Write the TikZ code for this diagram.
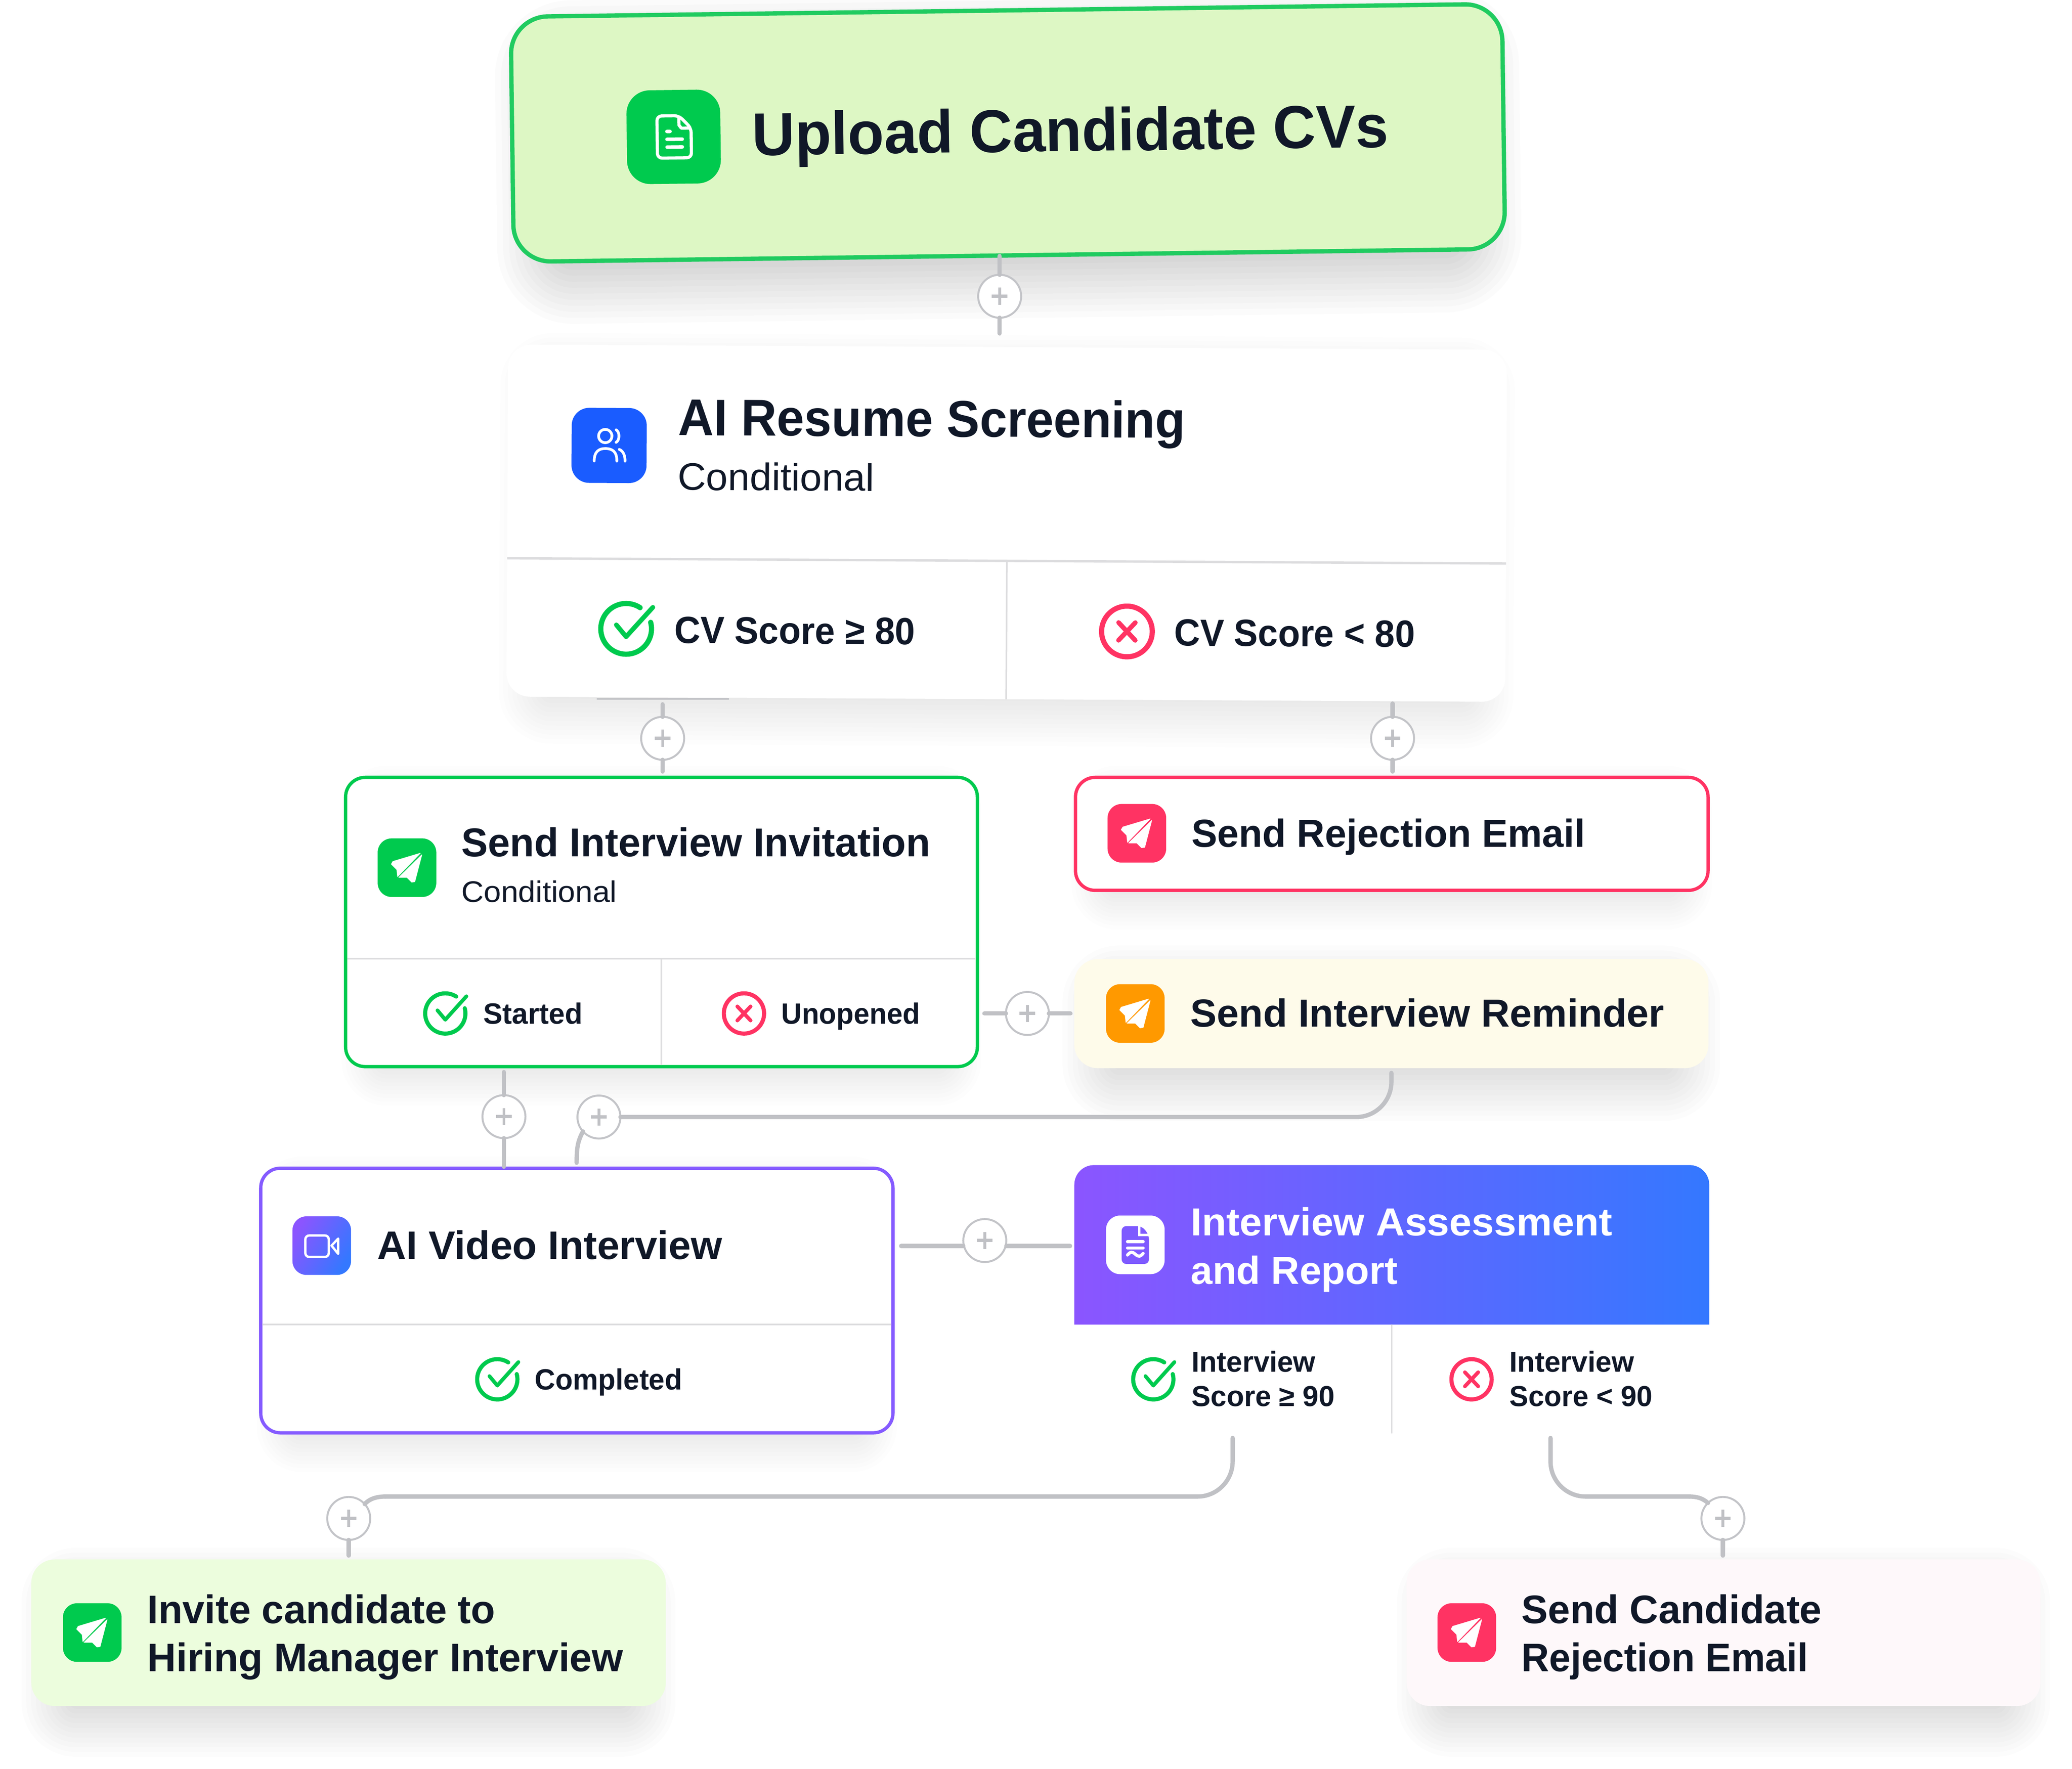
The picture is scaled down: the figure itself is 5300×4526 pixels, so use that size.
\documentclass[tikz,border=0pt]{standalone}
\usepackage{fontspec}
\usepackage{graphicx}
\setmainfont{Liberation Sans}
\definecolor{ink}{HTML}{101828}
\definecolor{wire}{HTML}{C0C1C5}
\definecolor{okgreen}{HTML}{00CA4E}
\definecolor{nored}{HTML}{FF3363}
\definecolor{amber}{HTML}{FF9900}
\definecolor{violet}{HTML}{855BFF}
\definecolor{gradA}{HTML}{8B55FF}
\definecolor{gradB}{HTML}{3478FF}
\definecolor{azure}{HTML}{1A5CFF}
\definecolor{upfill}{HTML}{DDF7C4}
\definecolor{upline}{HTML}{20CB60}
\definecolor{mintfill}{HTML}{ECFDDD}
\definecolor{rosefill}{HTML}{FEF8FA}
\definecolor{creamfill}{HTML}{FEFBEA}
\definecolor{rule}{HTML}{DCDCDE}
\newlength\uu
\setlength\uu{0.1pt}
\tikzset{
  x=0.1pt,y=-0.1pt,
  wh/.style 2 args={minimum width=#1*0.1pt,minimum height=#2*0.1pt},
  box/.style={rectangle,inner sep=0pt,outer sep=0pt,rounded corners=5pt,line width=0.85pt},
  iconbox/.style={rectangle,inner sep=0pt,outer sep=0pt,rounded corners=3.6pt,minimum size=15pt},
  txt/.style={inner sep=0pt,outer sep=0pt,anchor=base west},
  conn/.style={wire,line width=1.1pt,line cap=round},
  divider/.style={rule,line width=0.4pt},
  plusnode/.style={circle,draw=wire!95!white,line width=0.5pt,fill=white,minimum size=11pt,inner sep=0pt,outer sep=0pt,
    path picture={\draw[wire,line width=0.85pt] ([xshift=-2pt]path picture bounding box.center) -- ([xshift=2pt]path picture bounding box.center);
      \draw[wire,line width=0.7pt] ([yshift=-2.2pt]path picture bounding box.center) -- ([yshift=2.2pt]path picture bounding box.center);}},
}
% name x y width size text (bold)
\newcommand\lab[7][ink]{\node[txt,text=#1,transform shape] (#2) at (#3,#4) {\resizebox{#5\uu}{\height}{\fontsize{#6}{#6}\selectfont\bfseries #7}};}
\newcommand\labr[7][ink]{\node[txt,text=#1,transform shape] (#2) at (#3,#4) {\resizebox{#5\uu}{\height}{\fontsize{#6}{#6}\selectfont #7}};}
% two lines in one node: [colour] name x y w1 w2 size leading t1 t2
\newcommand\labii[9][ink]{\labiiaux{#1}{#2}{#3}{#4}{#5}{#6}{#7}{#8}{#9}}
\newcommand\labiiaux[9]{\def\firstline{#9}\labiiend{#1}{#2}{#3}{#4}{#5}{#6}{#7}{#8}}
\newcommand\labiiend[9]{\node[txt,text=#1] (#2) at (#3,#4) {\vtop{\fontsize{#7}{#7}\selectfont\bfseries\baselineskip=#8\uu\lineskiplimit=-1000pt\hbox{\resizebox{#5\uu}{\height}{\firstline}}\hbox{\resizebox{#6\uu}{\height}{#9}}}};}
\newcommand\softshadow[8]{\foreach \k in {0,...,13}{%
  \pgfmathsetmacro\e{#7*(1-\k/6.5)}%
  \pgfmathsetmacro\rr{max(#5+\e,5)*0.1}%
  \fill[black,opacity=#8/14,rounded corners=\rr pt] ({#1-(\e)+55},{#2+#6-(\e)}) rectangle ({#3+(\e)-55},{#4+#6+(\e)});}}
\newcommand\plane[2]{\begin{scope}[shift={(#1,#2)}]
  \fill[white,draw=white,line width=0.15pt,line join=round] (34,-37) -- (-36,-16) -- (-40,-9) -- (-26,5) -- (-24,23) -- cycle;
  \fill[white,draw=white,line width=0.15pt,line join=round] (38,-33) -- (-21,25) -- (0,25) -- (12,37) -- (20,36) -- cycle;
\end{scope}}
\newcommand\chk[3]{\begin{scope}[shift={(#1,#2)},scale=#3]
  \draw[okgreen,line width=#3*1.05pt,line cap=round] plot[domain=57:375,samples=70] ({51.5*cos(\x)},{-51.5*sin(\x)});
  \draw[okgreen,line width=#3*0.95pt,line cap=round,line join=round] (-20,-8) -- (0,16) -- (54,-44);
\end{scope}}
\newcommand\crs[3]{\begin{scope}[shift={(#1,#2)},scale=#3]
  \draw[nored,line width=#3*1.05pt] plot[domain=0:360,samples=70] ({51.5*cos(\x)},{-51.5*sin(\x)}) -- cycle;
  \draw[nored,line width=#3*0.95pt,line cap=round] (-17,-18) -- (17,18) (-17,18) -- (17,-18);
\end{scope}}
\begin{document}
\begin{tikzpicture}
\useasboundingbox (0,0) rectangle (5300,4526);
\fill[white] (0,0) rectangle (5300,4526);

% ---------- Upload
\begin{scope}[rotate around={0.75:(2578,337)}]
  \softshadow{1313}{26}{3843}{654}{95}{60}{100}{0.2}
  \node[box,wh={2536}{627},rounded corners=9.5pt,draw=upline,line width=1.1pt,fill=upfill,transform shape] (upload) at (2578,340) {};
  \node[iconbox,minimum size=24pt,rounded corners=6pt,fill=okgreen,transform shape] (uploadicon) at (1723,339) {};
  \begin{scope}[shift={(uploadicon.center)}]
    \draw[white,line width=0.8pt,line join=round,rounded corners=1.2pt] (-42,-54) -- (14,-54) -- (45,-22) -- (45,54) -- (-42,54) -- cycle;
    \draw[white,line width=0.8pt,line join=round] (14,-54) -- (14,-30) -- (20,-22) -- (45,-22);
    \draw[white,line width=0.9pt,line cap=round] (-17,-14) -- (-9,-14) (-17,6) -- (22,6) (-17,26) -- (22,26);
  \end{scope}
  \lab{uploadtxt}{1924}{389}{1628}{15.5pt}{Upload Candidate CVs}
\end{scope}

% ---------- AI Resume Screening
\begin{scope}[rotate around={-0.3:(2575,1340)}]
  \softshadow{1298}{888}{3853}{1789}{60}{45}{75}{0.12}
  \node[box,wh={2555}{901},rounded corners=6pt,fill=white,transform shape] (screen) at (2575,1338.5) {};
  \node[iconbox,minimum size=19.2pt,rounded corners=4.5pt,fill=azure,transform shape] (screenicon) at (1557,1145) {};
  \begin{scope}[shift={(screenicon.center)}]
    \draw[white,line width=0.7pt] plot[domain=0:360,samples=40] ({-10+17*cos(\x)},{-24+17*sin(\x)}) -- cycle;
    \draw[white,line width=0.7pt,line cap=round] plot[domain=-70:70,samples=20] ({14+11*cos(\x)},{-24+17*sin(\x)});
    \draw[white,line width=0.7pt,line cap=round] (-38,40) .. controls (-38,15) and (-25,8) .. (-10,8) .. controls (8,8) and (20,15) .. (20,40);
    \draw[white,line width=0.7pt,line cap=round] (26,10) .. controls (36,14) and (41,25) .. (41,40);
  \end{scope}
  \lab{screentitle}{1733}{1118}{1298}{13.2pt}{AI Resume Screening}
  \labr{screensub}{1733}{1258}{503}{9.8pt}{Conditional}
  \draw[rule,line width=0.6pt] (1298,1435) coordinate (sdl) -- (3853,1435) coordinate (sdr);
  \draw[divider] (2576,1435) coordinate (sdt) -- (2576,1789) coordinate (sdb);
  \chk{1603}{1614}{1.26}
  \lab{scoreok}{1727}{1650}{615}{9.7pt}{CV Score ≥ 80}
  \crs{2884}{1614}{1.26}
  \lab{scoreno}{3005}{1650}{616}{9.7pt}{CV Score < 80}
\end{scope}
\coordinate (stubA) at (1526,1788);
\coordinate (stubB) at (1865,1788);
\draw[wire,line width=0.4pt] (stubA) -- (stubB);

% ---------- Send Interview Invitation
\softshadow{884}{1989}{2500}{2729}{50}{35}{65}{0.12}
\node[box,wh={1616}{740},draw=okgreen,fill=white] (invite) at (1692,2359) {};
\node[iconbox,fill=okgreen] (inviteicon) at (1041,2220) {};
\plane{1041}{2220}
\lab{invitetitle}{1180}{2192}{1200}{10.3pt}{Send Interview Invitation}
\labr{invitesub}{1180}{2308}{398}{7.6pt}{Conditional}
\draw[divider] (888,2453) coordinate (idl) -- (2496,2453) coordinate (idr);
\draw[divider] (1692,2453) coordinate (idt) -- (1692,2725) coordinate (idb);
\chk{1139}{2593}{1}
\lab{started}{1236}{2620}{254}{7.5pt}{Started}
\crs{1903}{2593}{1}
\lab{unopened}{1999}{2620}{354}{7.5pt}{Unopened}

% ---------- Send Rejection Email
\softshadow{2751}{1989}{4369}{2278}{50}{35}{65}{0.12}
\node[box,wh={1618}{289},draw=nored,fill=white] (reject) at (3560,2133.5) {};
\node[iconbox,fill=nored] (rejecticon) at (2908,2132) {};
\plane{2908}{2132}
\lab{rejecttxt}{3048}{2167}{1007}{10pt}{Send Rejection Email}

% ---------- Send Interview Reminder
\softshadow{2748}{2454}{4370}{2733}{60}{50}{85}{0.15}
\node[box,wh={1622}{279},rounded corners=6pt,fill=creamfill] (remind) at (3559,2593.5) {};
\node[iconbox,fill=amber] (remindicon) at (2904,2593) {};
\plane{2904}{2593}
\lab{remindtxt}{3045}{2627}{1212}{10pt}{Send Interview Reminder}

% ---------- AI Video Interview
\softshadow{667}{2989}{2284}{3666}{50}{35}{65}{0.12}
\node[box,wh={1617}{677},draw=violet,fill=white] (video) at (1475.5,3327.5) {};
\node[iconbox,left color=gradA,right color=gradB,shading angle=60] (videoicon) at (823,3187) {};
\draw[white,line width=0.6pt,rounded corners=1pt] (781,3161) rectangle (841,3216);
\draw[white,line width=0.6pt,line join=round] (848,3187) -- (865,3169) -- (865,3208) -- cycle;
\lab{videotxt}{965}{3222}{882}{10.2pt}{AI Video Interview}
\draw[divider] (671,3389) coordinate (vdl) -- (2280,3389) coordinate (vdr);
\chk{1272}{3529}{1}
\lab{completed}{1368}{3556}{377}{7.5pt}{Completed}

% ---------- Interview Assessment and Report
\shade[left color=gradA,right color=gradB] (2748,3389) [rounded corners=5pt] -- (2748,2981) -- (4372,2981) [sharp corners] -- (4372,3389) -- cycle;
\node[iconbox,fill=white] (assessicon) at (2904,3185) {};
\fill[gradA!85!gradB,rounded corners=1.2pt] (2869,3137) -- (2921,3137) -- (2939,3160) -- (2939,3234) -- (2869,3234) -- cycle;
\draw[white,line width=0.6pt] (2914,3135) -- (2914,3160) -- (2941,3160);
\draw[white,line width=0.8pt,line cap=round] (2884,3177) -- (2924,3177) (2884,3193) -- (2924,3193);
\draw[white,line width=0.8pt,line cap=round] (2884,3211) .. controls (2892,3202) and (2896,3202) .. (2904,3209) .. controls (2912,3216) and (2916,3216) .. (2924,3207);
\labii[white]{assesstxt}{3046}{3161}{1078}{529}{10pt}{124}{Interview Assessment}{and Report}
\draw[divider] (3560,3389) coordinate (adt) -- (3560,3668) coordinate (adb);
\chk{2950}{3529}{1}
\labii{assessok}{3048}{3510}{317}{366}{7.4pt}{88}{Interview}{Score ≥ 90}
\crs{3764}{3529}{1}
\labii{assessno}{3861}{3510}{319}{366}{7.4pt}{88}{Interview}{Score < 90}

% ---------- bottom cards
\softshadow{80}{3990}{1703}{4365}{60}{50}{80}{0.17}
\node[box,wh={1623}{375},rounded corners=6pt,fill=mintfill] (hire) at (891.5,4177.5) {};
\node[iconbox,fill=okgreen] (hireicon) at (236,4177) {};
\plane{236}{4177}
\labii{hiretxt}{377}{4153}{890}{1217}{10.2pt}{124}{Invite candidate to}{Hiring Manager Interview}

\softshadow{3598}{3990}{5219}{4365}{60}{50}{80}{0.17}
\node[box,wh={1621}{375},rounded corners=6pt,fill=rosefill] (final) at (4408.5,4177.5) {};
\node[iconbox,fill=nored] (finalicon) at (3752,4177) {};
\plane{3752}{4177}
\labii{finaltxt}{3892}{4153}{768}{733}{10.2pt}{124}{Send Candidate}{Rejection Email}

% ---------- plus nodes
\node[plusnode] (p1) at (2557,758) {};
\node[plusnode] (p2) at (1695,1889) {};
\node[plusnode] (p3) at (3562,1889) {};
\node[plusnode] (p4) at (2628,2593) {};
\node[plusnode] (p5) at (1289,2857) {};
\node[plusnode] (p6) at (1532,2858) {};
\node[plusnode] (p7) at (2519,3174) {};
\node[plusnode] (p8) at (892,3885) {};
\node[plusnode] (p9) at (4407,3885) {};

% ---------- connector ends
\coordinate (a1) at (2557,655);   \coordinate (b1) at (2557,853);
\coordinate (a2) at (1695,1802);  \coordinate (b2) at (1695,1974);
\coordinate (a3) at (3562,1800);  \coordinate (b3) at (3562,1974);
\coordinate (a4) at (2518,2593);  \coordinate (b4) at (2738,2593);
\coordinate (a5) at (1289,2743);  \coordinate (b5) at (1289,2985);
\coordinate (a6) at (3559,2745);  \coordinate (b6) at (1475,2975);
\coordinate (a7) at (2305,3188);  \coordinate (b7) at (2737,3188);
\coordinate (a8) at (3153,3679);  \coordinate (k8) at (985,3829);  \coordinate (b8) at (892,3980);
\coordinate (a9) at (3966,3679);  \coordinate (k9) at (4321,3829); \coordinate (b9) at (4407,3980);

% ---------- connectors
\draw[conn] (a1) -- (p1) (p1) -- (b1);
\draw[conn] (a2) -- (p2) (p2) -- (b2);
\draw[conn] (a3) -- (p3) (p3) -- (b3);
\draw[conn] (a4) -- (p4) (p4) -- (b4);
\draw[conn] (a5) -- (p5) (p5) -- (b5);
\draw[conn,rounded corners=9pt] (a6) |- (p6);
\draw[conn] (b6) .. controls (1475,2935) and (1478,2920) .. (p6.222);
\draw[conn] (a7) -- (a7 -| p7.west) (b7) -- (b7 -| p7.east);
\draw[conn,rounded corners=9pt] (a8) |- (k8);
\draw[conn] (k8) .. controls (958,3829) and (942,3838) .. (p8.42);
\draw[conn] (p8) -- (b8);
\draw[conn,rounded corners=9pt] (a9) |- (k9);
\draw[conn] (k9) .. controls (4345,3829) and (4358,3836) .. (p9.134);
\draw[conn] (p9) -- (b9);
\end{tikzpicture}
\end{document}
